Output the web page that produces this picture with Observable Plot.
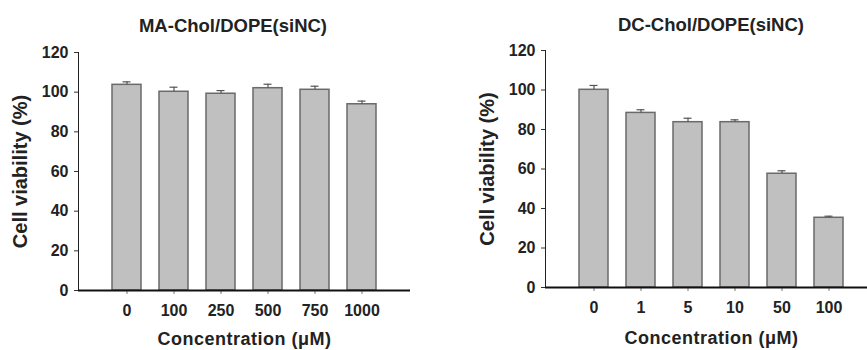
<!DOCTYPE html>
<html>
<head>
<meta charset="utf-8">
<script src="https://cdn.jsdelivr.net/npm/d3@7"></script>
<script src="https://cdn.jsdelivr.net/npm/@observablehq/plot@0.6"></script>
<style>
  body { margin: 0; background: #fff; }
  #wrap { position: relative; width: 867px; height: 350px; overflow: hidden; font-family: "Liberation Sans", Arial, sans-serif; }
  .panel { position: absolute; top: 0; }
  .panel svg { max-width: none !important; }
  .title { position: absolute; font-weight: bold; font-size: 18.5px; color: #222; white-space: nowrap; transform: translate(-50%, -50%); }
  svg { font-family: "Liberation Sans", Arial, sans-serif; }
  g[aria-label="y-axis tick label"], g[aria-label="x-axis tick label"] { font-size: 16px; font-weight: bold; fill: #222; }
  g[aria-label="y-axis label"] { font-size: 20px; font-weight: bold; fill: #222; }
  g[aria-label="x-axis label"] { font-size: 18px; font-weight: bold; fill: #222; letter-spacing: 0.5px; }
  g[aria-label="x-axis tick"] { stroke: #777; }
  g[aria-label="y-axis tick"] { stroke: #333; }
  g[aria-label="rule"]:not(.err), g[aria-label="y-axis line"], g[aria-label="y-axis rule"] { stroke: #111; stroke-width: 2px; }
</style>
</head>
<body>
<div id="wrap"></div>
<script>
// Left panel: MA-Chol/DOPE(siNC)
const maConc = ["0", "100", "250", "500", "750", "1000"];
const maViability = [103.7, 100.2, 99.2, 102.0, 101.2, 93.9];
const maError = [1.5, 2.3, 1.6, 2.0, 1.8, 1.6];

// Right panel: DC-Chol/DOPE(siNC)
const dcConc = ["0", "1", "5", "10", "50", "100"];
const dcViability = [100.1, 88.4, 83.7, 83.7, 57.6, 35.3];
const dcError = [2.2, 1.6, 2.0, 1.2, 1.5, 0.8];

const yTicks = [0, 20, 40, 60, 80, 100, 120];
const titles = ["MA-Chol/DOPE(siNC)", "DC-Chol/DOPE(siNC)"];
const yLabel = "Cell viability (%)";
const xLabel = "Concentration (\u03bcM)";

function panel(conc, vals, errs, opts) {
  const data = conc.map((c, i) => ({c, v: vals[i], e: errs[i], top: vals[i] + errs[i]}));
  return Plot.plot({
    width: opts.width,
    height: 350,
    marginLeft: opts.ml,
    marginRight: opts.mr,
    marginTop: opts.mt,
    marginBottom: opts.mb,
    style: {fontFamily: '"Liberation Sans", Arial, sans-serif', color: "#222", background: "transparent"},
    x: {domain: conc, paddingInner: 0.39, paddingOuter: 0.68, tickSize: 4, tickPadding: 10,
        label: xLabel, labelAnchor: "center", labelOffset: opts.xlo, labelArrow: "none"},
    y: {domain: [0, 120], ticks: yTicks, tickSize: 4, tickPadding: 6, line: true,
        label: yLabel, labelAnchor: "center", labelOffset: opts.ylo, labelArrow: "none"},
    marks: [
      Plot.barY(data, {x: "c", y: "v", fill: "#c0c0c0", stroke: "#6a6a6a", strokeWidth: 1.5}),
      Plot.ruleX(data, {x: "c", y1: "v", y2: "top", stroke: "#555", strokeWidth: 1.2, className: "err"}),
      Plot.tickY(data, {x: "c", y: "top", stroke: "#555", strokeWidth: 1.2, insetLeft: 10.5, insetRight: 10.5}),
      Plot.ruleY([0], {stroke: "#111", strokeWidth: 2})
    ]
  });
}

const wrap = document.getElementById("wrap");

function addPanel(svg, left, width, title, tx, ty) {
  const d = document.createElement("div");
  d.className = "panel";
  d.style.left = left + "px";
  d.style.width = width + "px";
  d.appendChild(svg);
  wrap.appendChild(d);
  const t = document.createElement("div");
  t.className = "title";
  t.textContent = title;
  t.style.left = tx + "px";
  t.style.top = ty + "px";
  wrap.appendChild(t);
}

const left = panel(maConc, maViability, maError, {width: 433, ml: 78, mr: 23, mt: 52, mb: 60, ylo: 66, xlo: 54});
const right = panel(dcConc, dcViability, dcError, {width: 444, ml: 112, mr: 0, mt: 50, mb: 63, ylo: 66, xlo: 56});
addPanel(left, 0, 433, titles[0], 233, 26);
addPanel(right, 433, 444, titles[1], 711, 25);
</script>
</body>
</html>
